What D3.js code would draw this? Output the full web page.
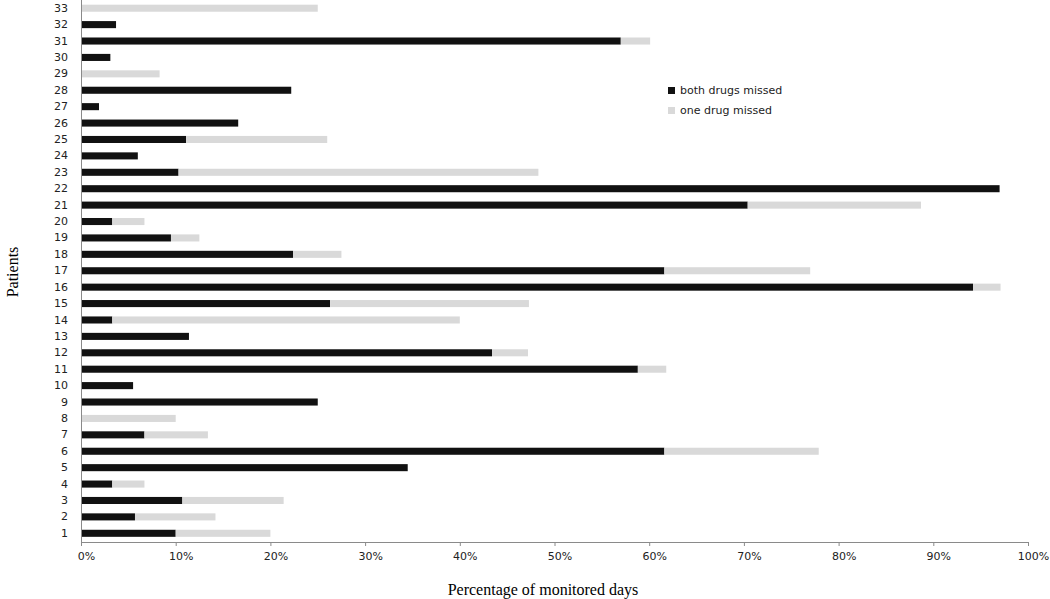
<!DOCTYPE html>
<html>
<head>
<meta charset="utf-8">
<script src="https://cdn.jsdelivr.net/npm/d3@7"></script>
<style>
  body { margin: 0; background: #fff; }
  .axis path, .axis line { stroke: #8a8a8a; }
  .axis text { font-family: "DejaVu Sans", Verdana, sans-serif; font-size: 11px; fill: #222; }
</style>
</head>
<body>
<div id="chart"></div>
<script>
// patients 1..33 (bottom to top)
const patients = d3.range(1, 34).map(String);

// % of monitored days, both drugs missed
const bothMissed = [10.0, 5.7, 10.7, 3.3, 34.5, 61.6, 6.7, 0, 25.0, 5.5,
                    58.8, 43.4, 11.4, 3.3, 26.3, 94.2, 61.6, 22.4, 9.5, 3.3,
                    70.4, 97.0, 10.3, 6.0, 11.1, 16.6, 1.9, 22.2, 0, 3.1,
                    57.0, 3.7, 0];

// % of monitored days, only one drug missed
const oneMissed = [10.0, 8.5, 10.7, 3.4, 0, 16.3, 6.7, 10.0, 0, 0,
                   3.0, 3.8, 0, 36.7, 21.0, 2.9, 15.4, 5.1, 3.0, 3.4,
                   18.3, 0, 38.0, 0, 14.9, 0, 0, 0, 8.3, 0,
                   3.1, 0, 25.0];

const xTicks = d3.range(0, 101, 10);
const seriesNames = ["both drugs missed", "one drug missed"];

// set the dimensions and margins of the graph
const margin = {top: 0, right: 22, bottom: 57, left: 81},
      width = 1050 - margin.left - margin.right,
      height = 542;

const color_mapping = {
    both: '#111111',
    one: '#d9d9d9'
}

const svg = d3.select("#chart")
    .append("svg")
        .attr("width", 1050)
        .attr("height", 599)
        .append("g")
            .attr("transform", `translate(${margin.left},${margin.top})`);

const data = patients.map((p, i) => ({patient: p, both: bothMissed[i], one: oneMissed[i]}));

const x = d3.scaleLinear()
    .domain([0, 100])
    .range([0, 947]);

const y = d3.scaleBand()
    .domain(patients.slice().reverse())
    .range([0, 541.5])
    .paddingInner(0.57)
    .paddingOuter(0.285);

const stacked = d3.stack().keys(["both", "one"])(data);

// bars
svg.append("g")
    .selectAll("g")
    .data(stacked)
    .join("g")
        .attr("fill", d => color_mapping[d.key])
    .selectAll("rect")
    .data(d => d)
    .join("rect")
        .attr("x", d => x(d[0]))
        .attr("y", d => y(d.data.patient))
        .attr("width", d => Math.max(0, x(d[1]) - x(d[0])))
        .attr("height", y.bandwidth());

// X axis (labels sit a little right of their ticks, as in the original)
svg.append("g")
    .attr("class", "axis")
    .attr("transform", `translate(0, ${height})`)
    .call(d3.axisBottom(x).tickValues(xTicks).tickSize(4).tickSizeOuter(0).tickPadding(6)
        .tickFormat(d => d + "%"))
    .selectAll(".tick text")
        .attr("dx", 5);

// Y axis
const yAxisG = svg.append("g")
    .attr("class", "axis")
    .call(d3.axisLeft(y).tickSize(0).tickPadding(13));
yAxisG.select(".domain").attr("d", `M0.5,0V${height}`);

// axis titles
svg.append("text")
    .attr("x", 543 - margin.left)
    .attr("y", 595)
    .attr("text-anchor", "middle")
    .style("font-family", "'Liberation Serif', 'Times New Roman', serif")
    .style("font-size", "16px")
    .text("Percentage of monitored days");

svg.append("text")
    .attr("transform", `translate(${18 - margin.left}, 272) rotate(-90)`)
    .attr("text-anchor", "middle")
    .style("font-family", "'Liberation Serif', 'Times New Roman', serif")
    .style("font-size", "16px")
    .text("Patients");

// legend
const legend = svg.append("g")
    .attr("transform", `translate(${668 - margin.left}, 87)`);

legend.selectAll("rect")
    .data(seriesNames)
    .join("rect")
        .attr("x", 0)
        .attr("y", (d, i) => i * 20)
        .attr("width", 7)
        .attr("height", 7)
        .attr("fill", (d, i) => i === 0 ? color_mapping.both : color_mapping.one);

legend.selectAll("text")
    .data(seriesNames)
    .join("text")
        .attr("x", 12)
        .attr("y", (d, i) => i * 20 + 7)
        .style("font-family", "'DejaVu Sans', Verdana, sans-serif")
        .style("font-size", "11px")
        .style("fill", "#222")
        .text(d => d);
</script>
</body>
</html>
